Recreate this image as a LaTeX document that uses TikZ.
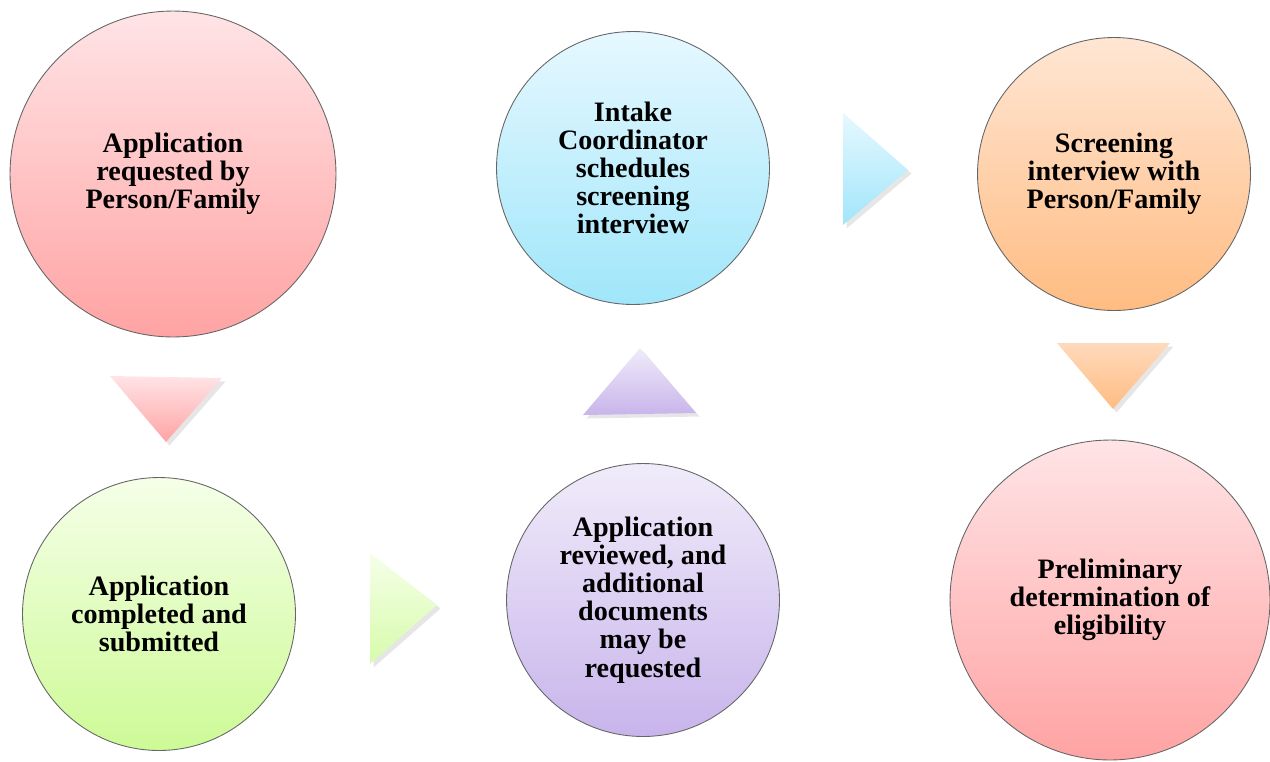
\documentclass[tikz,border=0pt]{standalone}
\usepackage{fontspec}
\setmainfont{Liberation Serif}
\usetikzlibrary{shadows}

\definecolor{pinkTop}{RGB}{255,228,230}
\definecolor{pinkBot}{RGB}{255,163,163}
\definecolor{greenTop}{RGB}{245,255,232}
\definecolor{greenBot}{RGB}{205,250,150}
\definecolor{blueTop}{RGB}{230,248,255}
\definecolor{blueBot}{RGB}{160,230,250}
\definecolor{purpleTop}{RGB}{240,236,250}
\definecolor{purpleBot}{RGB}{200,180,235}
\definecolor{orangeTop}{RGB}{255,230,212}
\definecolor{orangeBot}{RGB}{255,188,130}

\begin{document}
\begin{tikzpicture}[x=0.02cm,y=-0.02cm,
  stage node/.style={circle,draw=black!60,line width=0.5pt,inner sep=0pt,align=center,
    font=\bfseries\fontsize{16}{16}\selectfont},
  arrow tri/.style={drop shadow={shadow xshift=2pt,shadow yshift=-2pt,opacity=0.2}}]

  \useasboundingbox (0,0) rectangle (1270,761);

  \node[stage node,minimum size=6.52cm,top color=pinkTop,bottom color=pinkBot] (req) at (173,174)
    {Application\\requested by\\Person/Family};
  \node[stage node,minimum size=5.46cm,top color=greenTop,bottom color=greenBot] (done) at (159,614)
    {Application\\completed and\\submitted};
  \node[stage node,minimum size=5.46cm,top color=blueTop,bottom color=blueBot] (sched) at (633,168)
    {Intake\\Coordinator\\schedules\\screening\\interview};
  \node[stage node,minimum size=5.46cm,top color=purpleTop,bottom color=purpleBot] (rev) at (643,600)
    {Application\\reviewed, and\\additional\\documents\\may be\\requested};
  \node[stage node,minimum size=5.46cm,top color=orangeTop,bottom color=orangeBot] (scr) at (1114,174)
    {Screening\\interview with\\Person/Family};
  \node[stage node,minimum size=6.4cm,top color=pinkTop,bottom color=pinkBot] (elig) at (1110,600)
    {Preliminary\\determination of\\eligibility};

  % arrows between stages
  \path[arrow tri,top color=pinkTop,bottom color=pinkBot] (110,376) -- (222,378) -- (166,442) -- cycle;
  \path[arrow tri,top color=greenTop,bottom color=greenBot!80] (370,553) -- (437,605) -- (370,664) -- cycle;
  \path[arrow tri,top color=purpleTop,bottom color=purpleBot] (640,348) -- (696,413) -- (583,415) -- cycle;
  \path[arrow tri,top color=blueTop,bottom color=blueBot] (843,113) -- (908,170) -- (843,225) -- cycle;
  \path[arrow tri,top color=orangeTop!70!orangeBot,bottom color=orangeBot] (1057,343) -- (1170,343) -- (1113,409) -- cycle;
\end{tikzpicture}
\end{document}
